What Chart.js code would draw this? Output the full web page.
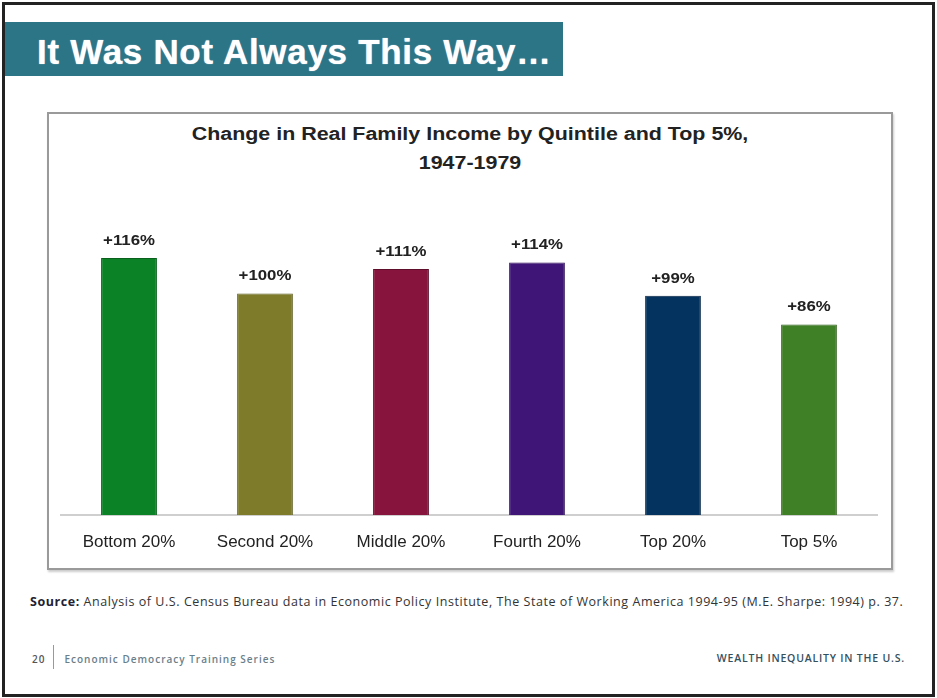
<!DOCTYPE html>
<html>
<head>
<meta charset="utf-8">
<script src="https://cdn.jsdelivr.net/npm/chart.js@4.4.1/dist/chart.umd.min.js"></script>
<style>
    body { margin: 0; background: #fff; font-family: "Liberation Sans", Arial, sans-serif; }
    .slide { position: relative; width: 937px; height: 698px; overflow: hidden; }
    .marco { position: absolute; left: 2px; top: 2px; width: 927px; height: 689px; border: 3px solid #222; }
    .banner { position: absolute; left: 5px; top: 22px; width: 558px; height: 54px; background: #2b7586; }
    .banner span { position: absolute; left: 32px; top: 10px; color: #fff; font: bold 35px "Liberation Sans", Arial, sans-serif; letter-spacing: 0.7px; text-shadow: 0 0 1px #dde; white-space: nowrap; line-height: normal; }
    .caja { position: absolute; left: 47px; top: 112px; width: 842px; height: 454px; border: 2px solid #9a9a9a; box-shadow: 1px 2px 2px #ccc; }
    .caja canvas { position: absolute; left: 0; top: 0; }
    .titulo { position: absolute; left: 0; top: 6px; width: 842px; text-align: center; font: bold 18px "Liberation Sans", Arial, sans-serif; line-height: 29px; color: #222; transform: scaleX(1.19); transform-origin: 421px 0; }
    .fuente { position: absolute; left: 30px; top: 593px; font: 12.5px "Open Sans", sans-serif; letter-spacing: 0.55px; color: #333; white-space: nowrap; }
    .fuente b { color: #223; }
    .pie-izq { position: absolute; left: 32px; top: 651px; font: 600 10px "Open Sans", sans-serif; letter-spacing: 1px; color: #6a7f8c; white-space: nowrap; }
    .pie-izq .num { color: #555; }
    .pie-izq .sep { display: inline-block; width: 1px; height: 24px; background: #999; vertical-align: middle; margin: -6px 10px 0 8px; }
    .pie-der { position: absolute; right: 32px; top: 651px; font: 600 10.5px "Open Sans", sans-serif; letter-spacing: 0.8px; color: #34505e; white-space: nowrap; }
</style>
</head>
<body>
<div class="slide">
    <div class="banner"><span>It Was Not Always This Way…</span></div>
    <div class="caja">
        <div class="titulo">Change in Real Family Income by Quintile and Top 5%,<br>1947-1979</div>
        <canvas id="chartIngreso" width="842" height="454"></canvas>
    </div>
    <div class="fuente"><b>Source:</b> Analysis of U.S. Census Bureau data in Economic Policy Institute, The State of Working America 1994-95 (M.E. Sharpe: 1994) p. 37.</div>
    <div class="pie-izq"><span class="num">20</span><span class="sep"></span>Economic Democracy Training Series</div>
    <div class="pie-der">WEALTH INEQUALITY IN THE U.S.</div>
    <div class="marco"></div>
</div>
<script>
const categorias = ['Bottom 20%', 'Second 20%', 'Middle 20%', 'Fourth 20%', 'Top 20%', 'Top 5%'];
const cambios = [116, 100, 111, 114, 99, 86];
const etiquetas = ['+116%', '+100%', '+111%', '+114%', '+99%', '+86%'];
const colores = ['#0a8225', '#7e7c2b', '#86143c', '#3f1577', '#05335f', '#3f7f25'];
const bordes = ['#08601c', '#5e5c20', '#5e0e2a', '#2c0f55', '#032444', '#2e5e1b'];

// etiquetas encima de cada barra (un poco estiradas como en la diapositiva)
const etiquetasBarras = {
    id: 'etiquetasBarras',
    afterDatasetsDraw(chart) {
        const ctx = chart.ctx;
        const meta = chart.getDatasetMeta(0);
        ctx.save();
        ctx.font = 'bold 14px "Liberation Sans", Arial, sans-serif';
        ctx.fillStyle = '#222';
        ctx.textAlign = 'center';
        ctx.textBaseline = 'bottom';
        meta.data.forEach((bar, i) => {
            ctx.save();
            ctx.translate(bar.x, bar.y - 10);
            ctx.scale(1.2, 1);
            ctx.fillText(etiquetas[i], 0, 0);
            ctx.restore();
        });
        ctx.restore();
    }
};

const ctx = document.getElementById('chartIngreso').getContext('2d');
new Chart(ctx, {
    type: 'bar',
    data: {
        labels: categorias,
        datasets: [{
            data: cambios,
            backgroundColor: colores,
            borderColor: bordes,
            borderWidth: 1,
            barPercentage: 0.41,
            categoryPercentage: 1
        }]
    },
    options: {
        responsive: false,
        animation: false,
        layout: { padding: { left: 12, right: 14, top: 113, bottom: 0 } },
        plugins: {
            legend: { display: false },
            title: { display: false },
            tooltip: { enabled: false }
        },
        scales: {
            x: {
                grid: { display: false, drawTicks: false },
                border: { display: true, color: '#cfcfcf', width: 2 },
                ticks: {
                    color: '#222',
                    padding: 17,
                    font: { family: '"Liberation Sans", Arial, sans-serif', size: 17 }
                },
                afterFit(scale) { scale.height = 53; }
            },
            y: {
                display: false,
                min: 0,
                max: 130
            }
        }
    },
    plugins: [etiquetasBarras]
});
</script>
</body>
</html>
